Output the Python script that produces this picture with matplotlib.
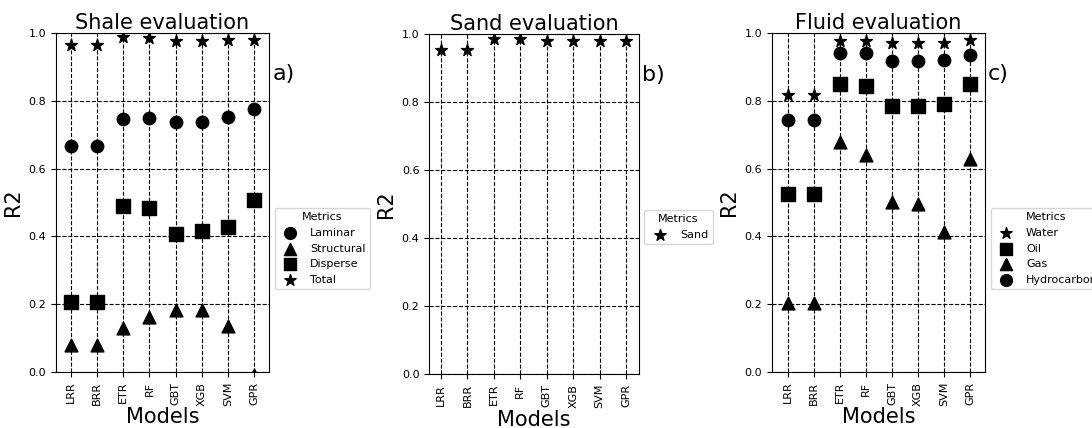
import numpy as np
import matplotlib.pyplot as plt

models = ['LRR', 'BRR', 'ETR', 'RF', 'GBT', 'XGB', 'SVM', 'GPR']

# Shale evaluation (R2)
shale_laminar = [0.666, 0.666, 0.745, 0.750, 0.738, 0.738, 0.752, 0.776]
shale_structural = [0.079, 0.079, 0.130, 0.161, 0.184, 0.184, 0.135, -0.01]
shale_disperse = [0.206, 0.206, 0.489, 0.484, 0.407, 0.417, 0.428, 0.508]
shale_total = [0.963, 0.963, 0.987, 0.984, 0.977, 0.977, 0.979, 0.979]

# Sand evaluation (R2)
sand = [0.954, 0.954, 0.986, 0.986, 0.979, 0.979, 0.979, 0.979]

# Fluid evaluation (R2)
fluid_water = [0.816, 0.816, 0.976, 0.975, 0.969, 0.969, 0.969, 0.980]
fluid_oil = [0.525, 0.525, 0.848, 0.843, 0.785, 0.785, 0.791, 0.849]
fluid_gas = [0.204, 0.204, 0.677, 0.640, 0.500, 0.494, 0.412, 0.629]
fluid_hc = [0.743, 0.743, 0.940, 0.940, 0.917, 0.917, 0.921, 0.934]

panels = [
    ('Shale evaluation', 'a)', [(shale_laminar, 'o', 'Laminar'),
                                (shale_structural, '^', 'Structural'),
                                (shale_disperse, 's', 'Disperse'),
                                (shale_total, '*', 'Total')],
     [0.0513, 0.131, 0.195, 0.792], (-0.57, 7.57)),
    ('Sand evaluation', 'b)', [(sand, '*', 'Sand')],
     [0.393, 0.126, 0.192, 0.794], (-0.45, 7.48)),
    ('Fluid evaluation', 'c)', [(fluid_water, '*', 'Water'),
                                (fluid_oil, 's', 'Oil'),
                                (fluid_gas, '^', 'Gas'),
                                (fluid_hc, 'o', 'Hydrocarbon')],
     [0.707, 0.131, 0.195, 0.792], (-0.62, 7.57)),
]

sizes = {'o': 80, '^': 85, 's': 95, '*': 80}

fig = plt.figure(figsize=(10.92, 4.28), dpi=100)
x = np.arange(len(models))

for title, tag, series, pos, xlim in panels:
    ax = fig.add_axes(pos)
    for vals, mk, lab in series:
        ax.scatter(x, vals, marker=mk, s=sizes[mk], color='black', label=lab, zorder=3)
    ax.set_xticks(x)
    ax.set_xticklabels(models, rotation=90, fontsize=8)
    ax.set_xlim(*xlim)
    ax.set_ylim(0, 1)
    ax.set_yticks([0.0, 0.2, 0.4, 0.6, 0.8, 1.0])
    ax.tick_params(axis='y', labelsize=8)
    ax.grid(True, color='black', linestyle='--', linewidth=0.8)
    ax.set_axisbelow(True)
    ax.set_title(title, fontsize=15, pad=3)
    ax.set_xlabel('Models', fontsize=15, labelpad=1)
    ax.set_ylabel('R2', fontsize=15)
    ax.text(1.015, 0.88, tag, transform=ax.transAxes, fontsize=16, va='center', ha='left')
    ax.legend(title='Metrics', loc='upper left', bbox_to_anchor=(1.0, 0.5),
              fontsize=8, title_fontsize=8, scatterpoints=1, markerscale=0.95)

fig.savefig('out.png', dpi=100)
